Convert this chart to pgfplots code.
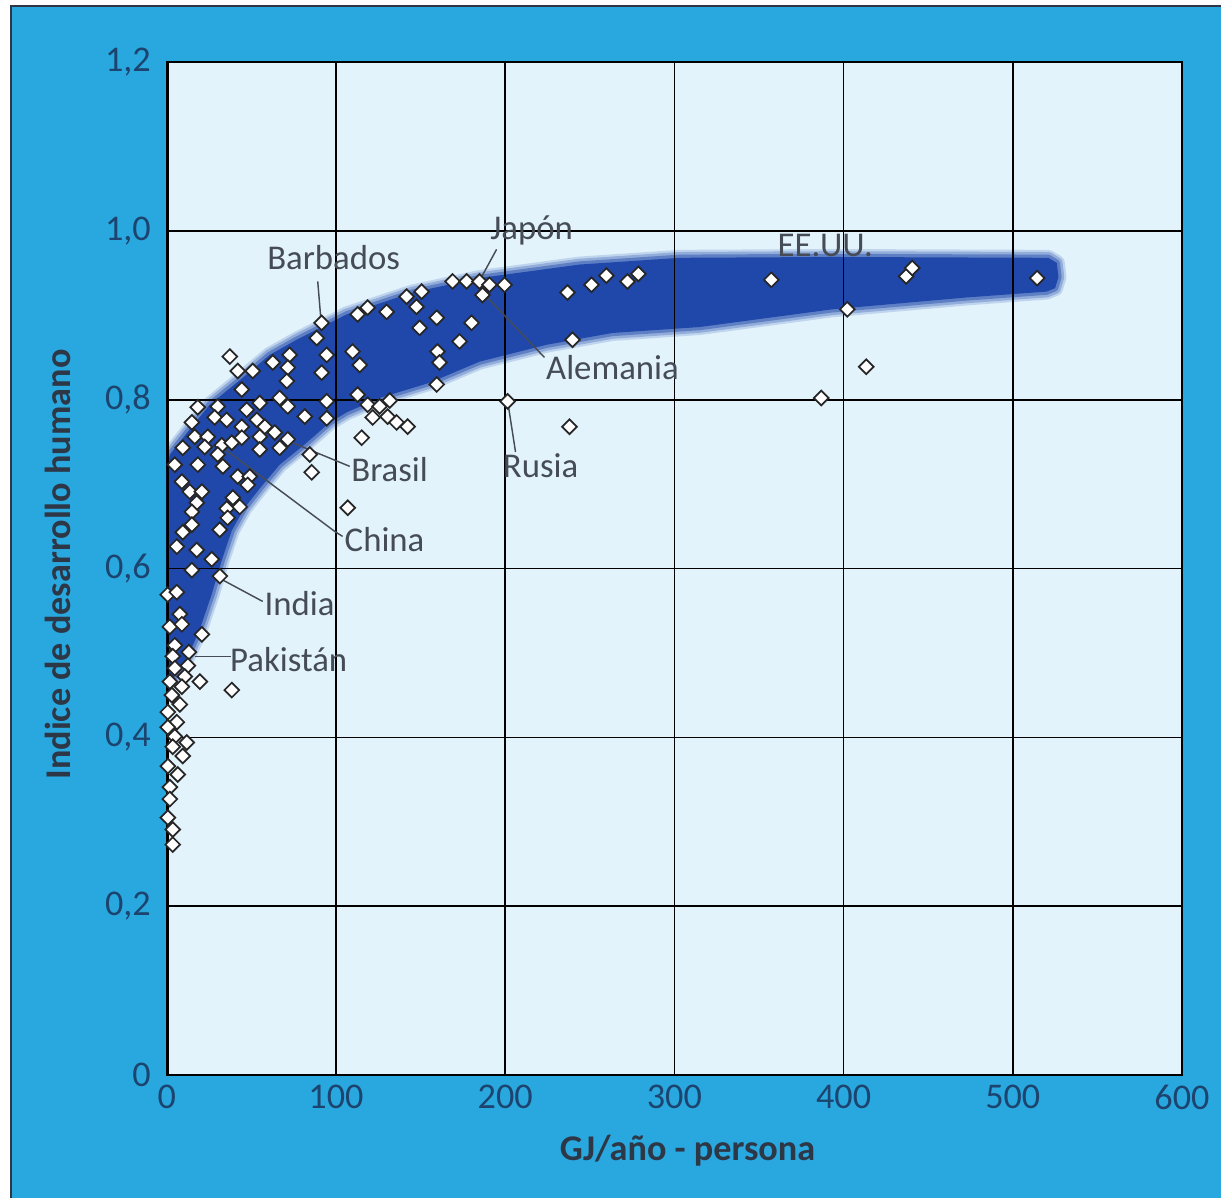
\documentclass[border=0pt]{standalone}
\usepackage{pgfplots}
\pgfplotsset{compat=1.18}
\usepackage{fontspec}
\setmainfont{Carlito}
\definecolor{outerblue}{RGB}{41,168,224}
\definecolor{innerbg}{RGB}{226,243,252}
\definecolor{bandcol}{RGB}{32,72,170}
\definecolor{tickcol}{RGB}{28,68,110}
\definecolor{labcol}{RGB}{45,55,70}
\definecolor{anncol}{RGB}{70,76,86}

\pgfplotstableread{
x y
37.2 0.851
41.9 0.834
50.8 0.834
62.6 0.844
72.6 0.853
71.5 0.838
70.9 0.822
44.3 0.812
66.7 0.802
71.5 0.792
18.3 0.791
30.1 0.792
47.2 0.788
54.9 0.796
14.8 0.773
28.3 0.779
35.4 0.776
53.2 0.776
44.3 0.768
57.9 0.768
16.5 0.756
24.2 0.756
44.3 0.755
54.9 0.756
63.8 0.761
71.5 0.753
9.4 0.743
22.4 0.744
32.5 0.746
38.4 0.749
54.9 0.741
66.7 0.743
4.7 0.723
18.3 0.723
30.1 0.735
33.1 0.721
41.9 0.709
49.0 0.709
47.8 0.699
8.9 0.703
13.6 0.691
20.7 0.691
39.0 0.684
43.1 0.673
17.7 0.678
14.8 0.667
35.4 0.671
36.0 0.660
31.3 0.646
14.8 0.652
9.4 0.643
5.9 0.626
17.7 0.622
26.6 0.611
14.8 0.598
31.3 0.591
0.5 0.569
5.9 0.572
7.7 0.546
1.8 0.531
8.9 0.534
20.7 0.522
4.7 0.509
13.0 0.501
3.5 0.496
12.4 0.485
4.7 0.482
10.6 0.472
19.5 0.466
1.8 0.466
8.9 0.460
3.0 0.450
38.4 0.456
7.7 0.439
0.6 0.430
5.9 0.418
0.6 0.412
4.7 0.401
11.8 0.394
3.5 0.389
9.4 0.378
0.6 0.366
6.5 0.356
1.8 0.341
1.8 0.327
0.6 0.305
3.5 0.291
3.5 0.273
88.6 0.873
94.5 0.853
91.5 0.832
109.8 0.857
114.0 0.841
81.5 0.780
94.5 0.798
94.5 0.778
112.8 0.806
118.7 0.794
125.8 0.792
131.7 0.799
121.7 0.779
130.5 0.780
135.8 0.773
142.3 0.768
115.2 0.755
84.5 0.735
85.6 0.714
106.9 0.672
91.5 0.891
112.8 0.901
118.7 0.909
129.9 0.904
141.7 0.922
150.6 0.928
147.6 0.910
159.5 0.897
149.4 0.885
168.9 0.940
177.2 0.940
184.8 0.940
190.7 0.936
199.6 0.936
186.6 0.924
180.1 0.891
173.0 0.869
160.0 0.857
161.2 0.844
159.5 0.818
236.8 0.927
251.0 0.936
259.8 0.947
272.3 0.940
278.7 0.949
239.8 0.871
201.4 0.798
238.0 0.768
357.3 0.942
437.0 0.946
440.6 0.956
514.4 0.944
402.2 0.907
413.4 0.839
386.8 0.802
}\pts

\pgfplotstableread{
x y
0 0.717
1.8 0.735
13.6 0.765
25.4 0.794
44.9 0.826
60.8 0.853
76.8 0.871
106.3 0.901
145.3 0.927
184.8 0.944
243.9 0.960
303 0.968
393.3 0.969
521 0.968
526 0.962
527 0.945
525 0.932
520 0.928
472.5 0.921
393.3 0.907
314.8 0.886
263.4 0.879
224.4 0.865
184.8 0.845
155.3 0.820
125.8 0.802
106.3 0.785
96.3 0.773
81.5 0.747
66.7 0.723
55.0 0.695
46.0 0.672
38.4 0.645
32.5 0.610
26.6 0.570
19.5 0.528
13.6 0.501
7.7 0.480
1.8 0.466
0 0.464
}\band

\begin{document}
\begin{tikzpicture}
\fill[white] (0,0) rectangle (421.59pt,413.66pt);
\fill[outerblue] (3.45pt,0) rectangle (421.59pt,411.93pt);
\draw[labcol, line width=0.7pt] (3.8pt,0) -- (3.8pt,411.58pt) -- (421.59pt,411.58pt);
\fill[innerbg] (57.6pt,42.44pt) rectangle ++(350.52pt,349.83pt);
\begin{axis}[
  at={(57.6pt,42.44pt)}, anchor=south west,
  width=350.52pt, height=349.83pt, scale only axis,
  xmin=0, xmax=600, ymin=0, ymax=1.2,
  xtick={0,100,200,300,400,500,600},
  ytick={0,0.2,0.4,0.6,0.8,1.0,1.2},
  xticklabels={0,100,200,300,400,500,600},
  yticklabels={0,{0,2},{0,4},{0,6},{0,8},{1,0},{1,2}},
  axis line style={black, line width=0.7pt},
  major tick length=0pt,
  tick label style={font=\fontsize{12.5}{14}\selectfont, text=tickcol},
  yticklabel style={xshift=-2pt},
  xlabel={GJ/año - persona}, ylabel={Indice de desarrollo humano},
  label style={font=\bfseries\fontsize{12.5}{14}\selectfont, text=labcol},
  xlabel style={at={(axis description cs:0.513,-0.075)}, anchor=center},
  ylabel style={at={(axis description cs:-0.107,0.504)}, anchor=center},
]
\addplot[draw=bandcol, line width=5.5pt, opacity=0.18, line join=round, mark=none] table {\band} -- cycle;
\addplot[draw=bandcol, line width=4pt, opacity=0.28, line join=round, mark=none] table {\band} -- cycle;
\addplot[draw=bandcol, line width=2.2pt, opacity=0.45, line join=round, mark=none] table {\band} -- cycle;
\addplot[fill=bandcol, draw=none, mark=none] table {\band} -- cycle;

\begin{scope}[black, line width=0.6pt]
\draw (axis cs:100,0) -- (axis cs:100,1.2);
\draw (axis cs:200,0) -- (axis cs:200,1.2);
\draw (axis cs:300,0) -- (axis cs:300,1.2);
\draw (axis cs:400,0) -- (axis cs:400,1.2);
\draw (axis cs:500,0) -- (axis cs:500,1.2);
\draw (axis cs:0,0.2) -- (axis cs:600,0.2);
\draw (axis cs:0,0.4) -- (axis cs:600,0.4);
\draw (axis cs:0,0.6) -- (axis cs:600,0.6);
\draw (axis cs:0,0.8) -- (axis cs:600,0.8);
\draw (axis cs:0,1.0) -- (axis cs:600,1.0);
\draw[line width=1.4pt] (axis cs:0,0) -- (axis cs:0,1.2);
\end{scope}

\addplot[only marks, mark=square*, mark size=1.8pt,
  mark options={rotate=45, fill=white, draw=black!85, line width=0.6pt}] table {\pts};

\begin{scope}[anncol, line width=0.5pt]
\draw (axis cs:89.2,0.940) -- (axis cs:90.9,0.899);
\draw (axis cs:194.9,0.978) -- (axis cs:185.4,0.943);
\draw (axis cs:189,0.922) -- (axis cs:223.2,0.850);
\draw (axis cs:56.1,0.764) -- (axis cs:108.1,0.721);
\draw (axis cs:32.5,0.744) -- (axis cs:99.2,0.644) -- (axis cs:103.9,0.638);
\draw (axis cs:32.5,0.587) -- (axis cs:56.7,0.561);
\draw (axis cs:16.5,0.496) -- (axis cs:37.8,0.496);
\draw (axis cs:202,0.791) -- (axis cs:206.1,0.738);
\end{scope}
\begin{scope}[every node/.style={text=anncol, font=\fontsize{12}{14}\selectfont, inner sep=0pt}]
\node at (axis cs:98.6,0.968) {Barbados};
\node at (axis cs:215.6,1.000) {Japón};
\node at (axis cs:389.2,0.983) {EE.UU.};
\node at (axis cs:263.4,0.838) {Alemania};
\node at (axis cs:131.7,0.717) {Brasil};
\node at (axis cs:128.7,0.634) {China};
\node at (axis cs:78.5,0.559) {India};
\node at (axis cs:72.0,0.492) {Pakistán};
\node at (axis cs:220.9,0.722) {Rusia};
\end{scope}
\end{axis}
\end{tikzpicture}
\end{document}
